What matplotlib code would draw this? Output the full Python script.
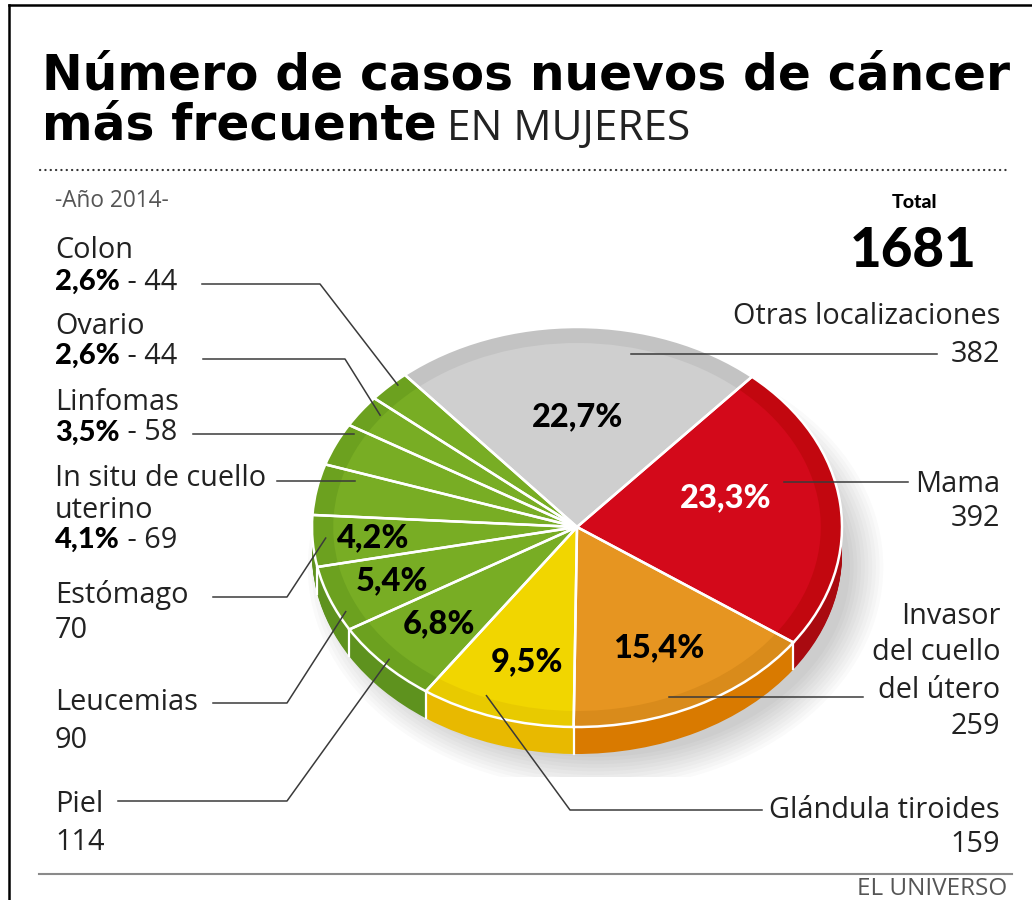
import numpy as np
import matplotlib.pyplot as plt
from matplotlib.patches import Ellipse

# ---------- Data: casos nuevos de cáncer en mujeres, año 2014 ----------
sites = ["Otras localizaciones", "Mama", "Invasor del cuello del útero",
         "Glándula tiroides", "Piel", "Leucemias", "Estómago",
         "In situ de cuello uterino", "Linfomas", "Ovario", "Colon"]
cases = [382, 392, 259, 159, 114, 90, 70, 69, 58, 44, 44]
total = 1681
pct_in_pie = [True, True, True, True, True, True, True, False, False, False, False]

top_colors  = ["#cfcfcf", "#d3091a", "#e69521", "#f1d600"] + ["#78ad24"] * 7
rim_colors  = ["#c3c3c3", "#c2070f", "#d98b1b", "#e8ca00"] + ["#6ca11f"] * 7
side_colors = ["#b4b4b4", "#a90a10", "#d97a00", "#e8b900"] + ["#5e921e"] * 7

# ---------- Layout (pixels, y from top) ----------
W, H = 1032, 900
CX, CY, RX, RY = 577, 527, 265, 200      # top face of the pie
DEPTH = 27                               # side height
START = 130.5

TXT = "#222222"
LINE = "#3a3a3a"
FONT = "Open Sans"
HEAVY = "Lato"

fig = plt.figure(figsize=(W / 100, H / 100), dpi=100)
fig.patch.set_facecolor("white")
renderer = fig.canvas.get_renderer()

# pie axes, squashed so the circle turns into the ellipse
pax = fig.add_axes([(CX - 1.25 * RX) / W, (H - CY - 1.25 * RY) / H,
                    2.5 * RX / W, 2.5 * RY / H])
ov = fig.add_axes([0, 0, 1, 1])
ov.set_xlim(0, W)
ov.set_ylim(H, 0)
ov.axis("off")
ov.set_zorder(3)
ov.patch.set_alpha(0)

pct = [100 * c / total for c in cases]
pct_str = [f"{p:.1f}".replace(".", ",") + "%" for p in pct]
cum = np.concatenate([[0], np.cumsum(cases)])
bounds = START - cum * 360 / total
mids = START - (cum[:-1] + np.array(cases) / 2) * 360 / total
d_unit = DEPTH / RY

# soft shadow, lower right
for i in range(10):
    pax.add_patch(Ellipse((0.07, -0.2), 2 * (0.96 + 0.014 * i), 2 * (0.95 + 0.018 * i),
                          color="black", alpha=0.02, lw=0, zorder=0))

# side band: stacked copies of the pie moved down
for k in np.linspace(d_unit, 0, 28):
    pax.pie(cases, colors=side_colors, startangle=START, counterclock=False,
            center=(0, -k), radius=1, wedgeprops=dict(linewidth=0))
for b in bounds[:-1]:
    t = np.deg2rad(b)
    if np.sin(t) < -0.02:
        pax.plot([np.cos(t)] * 2, [np.sin(t), np.sin(t) - d_unit], color="white", lw=1.6)

# top face: darker rim, main colour, white separators
pax.pie(cases, colors=rim_colors, startangle=START, counterclock=False,
        radius=1, wedgeprops=dict(linewidth=0))
pax.pie(cases, colors=top_colors, startangle=START, counterclock=False,
        radius=0.92, wedgeprops=dict(linewidth=0))
pax.pie(cases, startangle=START, counterclock=False, radius=1,
        wedgeprops=dict(fill=False, edgecolor="white", linewidth=1.8))
pax.set_aspect("auto")
pax.set_xlim(-1.25, 1.25)
pax.set_ylim(-1.25, 1.25)
pax.axis("off")


def pie_xy(angle, r):
    t = np.deg2rad(angle)
    return CX + r * RX * np.cos(t), CY - r * RY * np.sin(t)


def fit(t, width_px):
    t.set_fontsize(t.get_fontsize() * width_px / t.get_window_extent(renderer).width)


# percentages inside the pie (radius, angle nudge)
pct_pos = [(0.55, 0), (0.58, 8), (0.68, 0), (0.70, 2), (0.71, 0), (0.75, 0), (0.77, 0)]
for i in range(len(cases)):
    if not pct_in_pie[i]:
        continue
    r, da = pct_pos[i]
    x, y = pie_xy(mids[i] + da, r)
    ov.text(x, y, pct_str[i], ha="center", va="center", fontsize=23.5,
            family=HEAVY, fontweight="black", color="white" if i == 1 else "black")

# ---------- Side labels ----------
# (site index, text lines, leader start x, leader y, elbow x, anchor r, anchor angle nudge)
left_labels = [
    (10, [("Colon", 250), ("%", 282)], 202, 284, 320, 0.98, -1.6),
    (9, [("Ovario", 327), ("%", 356)], 203, 359, 345, 0.93, -1.6),
    (8, [("Linfomas", 403), ("%", 433)], 193, 434, None, 0.96, -4.5),
    (7, [("In situ de cuello", 478), ("uterino", 510), ("%", 540)], 277, 481, None, 0.87, -4.4),
    (6, [("Estómago", 595), ("70", 630)], 213, 597, 287, 0.95, -0.7),
    (5, [("Leucemias", 702), ("90", 740)], 213, 703, 287, 0.97, 4.7),
    (4, [("Piel", 805), ("114", 842)], 118, 801, 287, 0.97, 0),
]
right_labels = [
    (0, [("Otras localizaciones", 317), ("382", 354)], 937, 354, None, 0.9, -12.6),
    (1, [("Mama", 484), ("392", 518)], 908, 482, None, 0.81, 8.6),
    (2, [("Invasor", 617), ("del cuello", 653), ("del útero", 690), ("259", 727)],
     863, 697, None, 0.91, -4.7),
    (3, [("Glándula tiroides", 810), ("159", 845)], 762, 810, 570, 0.91, -4.3),
]

# label size: fit the longest label to its width in the reference
probe = ov.text(0, -100, "Otras localizaciones", fontsize=18, family=FONT)
LBL = 18 * 267 / probe.get_window_extent(renderer).width
probe.remove()
PCT = 21


def leader(idx, sx, ly, ex, r, da):
    ax_, ay_ = pie_xy(mids[idx] + da, r)
    if ex is None:
        ov.plot([sx, ax_], [ly, ly], color=LINE, lw=1.1, zorder=5)
    else:
        ov.plot([sx, ex, ax_], [ly, ly, ay_], color=LINE, lw=1.1, zorder=5)


for idx, lines, sx, ly, ex, r, da in left_labels:
    for s, y in lines:
        if s == "%":
            t1 = ov.text(55, y, pct_str[idx], ha="left", va="center", fontsize=PCT,
                         family=HEAVY, fontweight="black", color="black")
            ov.annotate(f" - {cases[idx]}", xy=(1, 0.5), xycoords=t1, ha="left",
                        va="center", fontsize=LBL, family=FONT, color=TXT)
        else:
            ov.text(55, y, s, ha="left", va="center", fontsize=LBL, family=FONT, color=TXT)
    leader(idx, sx, ly, ex, r, da)

for idx, lines, sx, ly, ex, r, da in right_labels:
    for s, y in lines:
        ov.text(1000, y, s, ha="right", va="center", fontsize=LBL, family=FONT, color=TXT)
    leader(idx, sx, ly, ex, r, da)

# ---------- Title block ----------
TITLE_FONT = "DejaVu Sans"
t1 = ov.text(42, 90, "Número de casos nuevos de cáncer", ha="left", va="baseline",
             fontsize=40, family=TITLE_FONT, fontweight="bold", color="black")
fit(t1, 968)
t2 = ov.text(42, 140, "más frecuente", ha="left", va="baseline",
             fontsize=t1.get_fontsize(), family=TITLE_FONT, fontweight="bold", color="black")
t3 = ov.text(447, 140, "EN MUJERES", ha="left", va="baseline",
             fontsize=20, family=FONT, color="#222222")
fit(t3, 243)

ov.plot([40, 1010], [170, 170], color="#333333", lw=1.6,
        ls=(0, (0.1, 2.3)), dash_capstyle="round")
t5 = ov.text(55, 201, "-Año 2014-", ha="left", va="center", fontsize=12.5,
             family=FONT, color="#555555")
fit(t5, 115)
ov.text(914, 203, "Total", ha="center", va="center", fontsize=14,
        family=HEAVY, fontweight="black", color="black")
t4 = ov.text(913, 267, f"{total}", ha="center", va="baseline", fontsize=40,
             family=HEAVY, fontweight="black", color="black")
fit(t4, 127)

# frame, bottom rule and credit
ov.plot([9, 9], [5, H], color="black", lw=1.8)
ov.plot([9, W], [5, 5], color="black", lw=1.8)
ov.plot([39, 1012], [874, 874], color="#8a8a8a", lw=1.5)
t6 = ov.text(1007, 889, "EL UNIVERSO", ha="right", va="center", fontsize=12,
             family=FONT, color="#555555")
fit(t6, 150)

fig.savefig("out.png", dpi=100)
